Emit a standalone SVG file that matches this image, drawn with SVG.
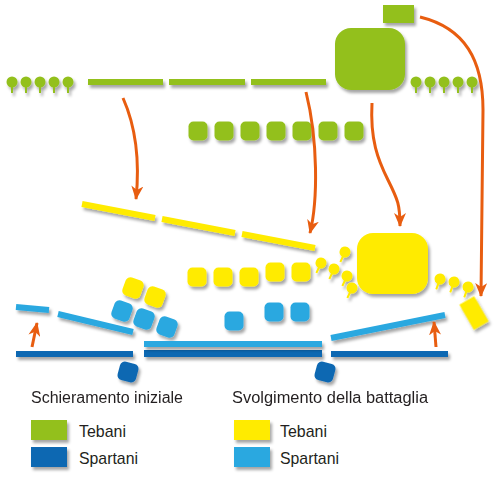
<svg xmlns="http://www.w3.org/2000/svg" xmlns:xlink="http://www.w3.org/1999/xlink" width="501" height="480" viewBox="0 0 501 480">
<defs>
<filter id="sh" x="-30%" y="-30%" width="160%" height="180%">
<feDropShadow dx="2" dy="3" stdDeviation="1.5" flood-color="#000" flood-opacity="0.35"/>
</filter>
<marker id="ah" viewBox="0 0 14 12" refX="13" refY="6" markerWidth="14" markerHeight="12" markerUnits="userSpaceOnUse" orient="auto">
<path d="M0,0 L14,6 L0,12 L4,6 z" fill="#e85d10"/>
</marker>
<g id="lg"><circle cx="0" cy="0" r="5.5"/><rect x="-1" y="3" width="2" height="8"/></g>
<rect id="sq" x="-9.5" y="-9.5" width="19" height="19" rx="5"/>
</defs>
<style>
.g{fill:#93c01f}
.y{fill:#ffeb00}
.lb{fill:#29a8e0}
.db{fill:#1068b2}
.ln{fill:none;stroke-width:6}
.yl{stroke:#ffeb00}
.lbl{stroke:#29a8e0}
.arr{fill:none;stroke:#e85d10;stroke-width:3;marker-end:url(#ah)}
text{font-family:"Liberation Sans",Arial,sans-serif;font-size:16px;fill:#231f20}
.lt{font-size:17px}
</style>

<g id="tebani-initial" class="g" filter="url(#sh)">
<rect x="383" y="5" width="31" height="18"/>
<rect x="335" y="28" width="70" height="62" rx="16"/>
<use href="#lg" x="12" y="82"/><use href="#lg" x="26" y="82"/><use href="#lg" x="40" y="82"/><use href="#lg" x="54" y="82"/><use href="#lg" x="68" y="82"/>
<rect x="88" y="79" width="75" height="6"/>
<rect x="169" y="79" width="76" height="6"/>
<rect x="251" y="79" width="75" height="6"/>
<use href="#lg" x="416" y="82"/><use href="#lg" x="430" y="82"/><use href="#lg" x="444" y="82"/><use href="#lg" x="458" y="82"/><use href="#lg" x="472" y="82"/>
<use href="#sq" x="198" y="131"/><use href="#sq" x="224" y="131"/><use href="#sq" x="250" y="131"/><use href="#sq" x="276" y="131"/><use href="#sq" x="302" y="131"/><use href="#sq" x="328" y="131"/><use href="#sq" x="354" y="131"/>
</g>

<g id="tebani-battle" filter="url(#sh)">
<line class="ln yl" x1="82" y1="204" x2="155" y2="218"/>
<line class="ln yl" x1="162" y1="219" x2="235" y2="233"/>
<line class="ln yl" x1="242" y1="234" x2="315" y2="248"/>
<g class="y">
<rect x="357" y="233" width="71" height="61" rx="16"/>
<use href="#sq" x="197" y="277"/><use href="#sq" x="223" y="277"/><use href="#sq" x="249" y="277"/><use href="#sq" x="275" y="272"/><use href="#sq" x="301" y="272"/>
<use href="#lg" transform="translate(321,263) rotate(25)"/>
<use href="#lg" transform="translate(345,252) rotate(25)"/>
<use href="#lg" transform="translate(334,269) rotate(25)"/>
<use href="#lg" transform="translate(347,276) rotate(25)"/>
<use href="#lg" transform="translate(352,288) rotate(25)"/>
<use href="#lg" transform="translate(440,279) rotate(20)"/>
<use href="#lg" transform="translate(454,282) rotate(20)"/>
<use href="#lg" transform="translate(468,287) rotate(20)"/>
<rect x="-8.5" y="-14.5" width="17" height="29" transform="translate(474,313) rotate(-30)"/>
<use href="#sq" transform="translate(133,288) rotate(20)"/>
<use href="#sq" transform="translate(155,297) rotate(20)"/>
</g>
</g>

<g id="spartani-initial" class="db" filter="url(#sh)">
<rect x="16" y="351" width="117" height="6"/>
<rect x="144" y="350" width="178" height="7"/>
<rect x="331" y="351" width="117" height="6"/>
<use href="#sq" transform="translate(128,372) rotate(15)"/>
<use href="#sq" transform="translate(325,372) rotate(15)"/>
</g>

<g id="spartani-battle" filter="url(#sh)">
<line class="ln lbl" x1="16" y1="307" x2="49" y2="310" stroke-width="5"/>
<line class="ln lbl" x1="58" y1="314" x2="133" y2="332"/>
<line class="ln lbl" x1="331" y1="338" x2="445" y2="315"/>
<g class="lb">
<rect x="144" y="341" width="178" height="6"/>
<use href="#sq" transform="translate(122,311) rotate(20)"/>
<use href="#sq" transform="translate(144,319) rotate(20)"/>
<use href="#sq" transform="translate(167,327) rotate(20)"/>
<use href="#sq" x="234" y="321"/>
<use href="#sq" x="274" y="312"/>
<use href="#sq" x="300" y="312"/>
</g>
</g>

<g id="connectors">
<path class="arr" d="M123,98 C135,125 140,160 136,199"/>
<path class="arr" d="M306,92 C318,140 318,200 310,233"/>
<path class="arr" d="M372,103 C370,140 378,160 388,180 S400,205 400,226"/>
<path class="arr" d="M420,17 C465,28 483,60 483,110 L481,296"/>
<path class="arr" d="M32,347 L37,323"/>
<path class="arr" d="M436,347 L434,322"/>
</g>

<g id="legend">
<text x="31" y="403" textLength="152" lengthAdjust="spacingAndGlyphs">Schieramento iniziale</text>
<text x="232" y="403" textLength="196" lengthAdjust="spacingAndGlyphs">Svolgimento della battaglia</text>
<g filter="url(#sh)">
<rect class="g" x="31" y="420" width="36" height="20"/>
<rect class="db" x="31" y="447" width="36" height="20"/>
<rect class="y" x="234" y="420" width="36" height="20"/>
<rect class="lb" x="234" y="447" width="36" height="20"/>
</g>
<text class="lt" x="79" y="437" textLength="47" lengthAdjust="spacingAndGlyphs">Tebani</text>
<text class="lt" x="79" y="464" textLength="59" lengthAdjust="spacingAndGlyphs">Spartani</text>
<text class="lt" x="280" y="437" textLength="47" lengthAdjust="spacingAndGlyphs">Tebani</text>
<text class="lt" x="280" y="464" textLength="59" lengthAdjust="spacingAndGlyphs">Spartani</text>
</g>
</svg>
